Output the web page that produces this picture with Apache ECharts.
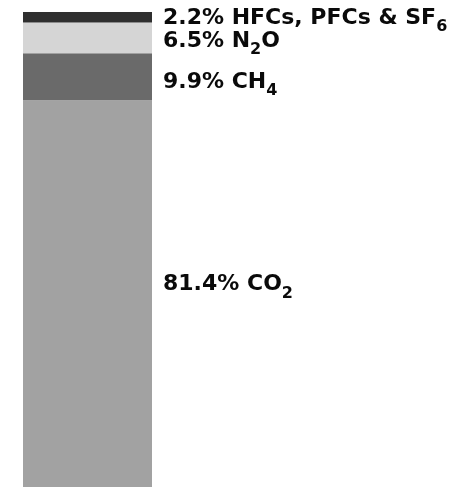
<!DOCTYPE html>
<html>
<head>
<meta charset="utf-8">
<script src="https://cdn.jsdelivr.net/npm/echarts@6/dist/echarts.min.js"></script>
<style>
  html, body { margin: 0; padding: 0; background: #fff; }
  #chart { width: 466px; height: 487px; }
</style>
</head>
<body>
<div id="chart"></div>
<script>
// Greenhouse gas shares (percent), stacked bottom to top
const gases = ['CO2', 'CH4', 'N2O', 'HFCs, PFCs & SF6'];
const shares = [81.4, 9.9, 6.5, 2.2];
// Label text split into main part and subscript
const labelMain = ['81.4% CO', '9.9% CH', '6.5% N', '2.2% HFCs, PFCs & SF'];
const labelSub = ['2', '4', '2', '6'];
const labelTail = ['', '', 'O', ''];
const colors = ['#a2a2a2', '#6a6a6a', '#d5d5d5', '#2f2f2f'];
const labelOffsets = [[0, -9], [0, 5], [0, 3], [0, 1]];

const chart = echarts.init(document.getElementById('chart'), null, { renderer: 'canvas' });

const fontFamily = '"DejaVu Sans", Arial, sans-serif';

const series = gases.map((g, i) => ({
  name: g,
  type: 'bar',
  stack: 'total',
  barWidth: '100%',
  data: [shares[i]],
  itemStyle: { color: colors[i] },
  label: {
    show: true,
    position: 'right',
    distance: 11,
    offset: labelOffsets[i],
    formatter: () => '{m|' + labelMain[i] + '}{s|' + labelSub[i] + '}' +
      (labelTail[i] ? '{m|' + labelTail[i] + '}' : ''),
    rich: {
      m: { fontFamily, fontWeight: 'bold', fontSize: 22, color: '#0a0a0a', lineHeight: 24 },
      s: { fontFamily, fontWeight: 'bold', fontSize: 16, color: '#0a0a0a', lineHeight: 16, padding: [18, 0, 0, 0] }
    }
  }
}));

chart.setOption({
  animation: false,
  grid: { left: 23, top: 12, width: 129, height: 489 },
  xAxis: { type: 'category', data: ['share'], show: false },
  yAxis: { type: 'value', min: 0, max: 100, show: false },
  series
});
</script>
</body>
</html>
